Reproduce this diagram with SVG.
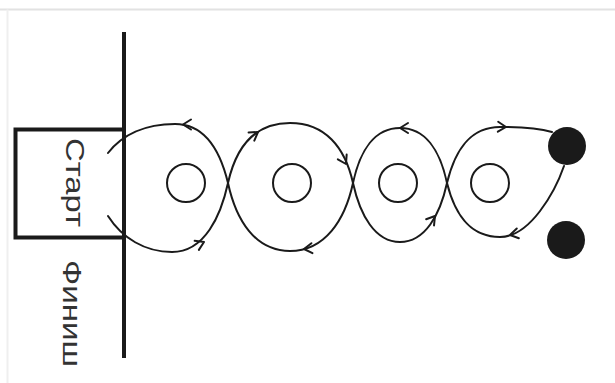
<svg xmlns="http://www.w3.org/2000/svg" width="615" height="383" viewBox="0 0 615 383">
<style>
.frame{stroke:#e2e2e2;stroke-width:2;fill:none}
.thick{stroke:#1a1a1a;stroke-width:4;fill:none}
.route{stroke:#1a1a1a;stroke-width:2;fill:none;stroke-linecap:round}
.chev{stroke:#1a1a1a;stroke-width:2;fill:none;stroke-linecap:round;stroke-linejoin:round}
.ring{stroke:#1a1a1a;stroke-width:2;fill:none}
.dot{fill:#1a1a1a}
.lbl{font-family:"Liberation Sans",Arial,sans-serif;font-size:25px;fill:#333}
</style>
<defs>
<path id="chev" d="M-8,-5 L0,0 L-8,5"/>
</defs>
<rect x="0" y="0" width="615" height="383" fill="#fff"/>
<line class="frame" x1="0" y1="9.5" x2="615" y2="9.5"/>
<line class="frame" x1="7.5" y1="9.5" x2="7.5" y2="383" style="stroke:#efefef"/>

<g id="line">
<line class="thick" x1="124" y1="32" x2="124" y2="358"/>
</g>
<g id="start-box">
<rect class="thick" x="15.5" y="129.5" width="108.5" height="108"/>
<text class="lbl" transform="translate(66,138) rotate(90)" textLength="89" lengthAdjust="spacingAndGlyphs">Старт</text>
</g>
<g id="finish">
<text class="lbl" transform="translate(63,260) rotate(90)" textLength="107" lengthAdjust="spacingAndGlyphs">Финиш</text>
</g>

<g id="cone1"><circle class="ring" cx="186" cy="183" r="19"/></g>
<g id="cone2"><circle class="ring" cx="292" cy="183" r="19"/></g>
<g id="cone3"><circle class="ring" cx="398" cy="183" r="19"/></g>
<g id="cone4"><circle class="ring" cx="490" cy="183" r="19"/></g>
<g id="ball1"><circle class="dot" cx="567" cy="146" r="19"/></g>
<g id="ball2"><circle class="dot" cx="566" cy="240" r="19"/></g>

<g id="connectors">
<path class="route" d="M108,216 C122,238 145,252 172,252 C205,252 221,215 228,183 C236,147 255,123 290,123 C325,123 345,147 353,183 C360,215 375,242 400,242 C425,242 440,215 447,183 C455,150 470,127 500,127 C520,127 538,128 552,132"/>
<path class="route" d="M564,166 C555,192 530,237 500,237 C470,237 455,215 447,183 C440,150 425,128 400,128 C375,128 360,150 353,183 C345,220 325,251 290,251 C255,251 236,220 228,183 C220,150 205,124 175,124 C145,124 122,135 108,153"/>
<use href="#chev" class="chev" transform="translate(183,124.5) rotate(180)"/>
<use href="#chev" class="chev" transform="translate(204,242) rotate(-25)"/>
<use href="#chev" class="chev" transform="translate(258,132) rotate(-35)"/>
<use href="#chev" class="chev" transform="translate(346,164) rotate(62)"/>
<use href="#chev" class="chev" transform="translate(304,249) rotate(174)"/>
<use href="#chev" class="chev" transform="translate(400,128) rotate(180)"/>
<use href="#chev" class="chev" transform="translate(435,216) rotate(-52)"/>
<use href="#chev" class="chev" transform="translate(506,127) rotate(2)"/>
<use href="#chev" class="chev" transform="translate(510,235) rotate(168)"/>
</g>
</svg>
